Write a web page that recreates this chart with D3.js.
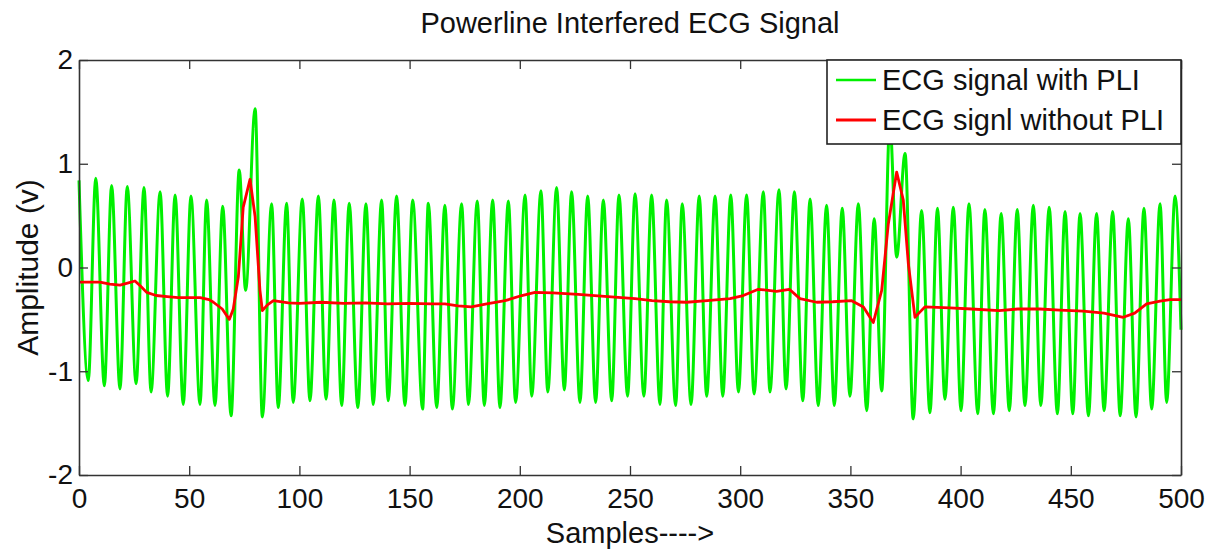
<!DOCTYPE html>
<html>
<head>
<meta charset="utf-8">
<script src="https://cdn.jsdelivr.net/npm/d3@7"></script>
<style>
  body { margin: 0; background: #fff; }
  text { font-family: "Liberation Sans", Arial, sans-serif; fill: #111; }
</style>
</head>
<body>
<div class="chart"></div>
<script>
var svgWidth = 1222;
var svgHeight = 551;

var margin = { top: 60, right: 41, bottom: 76, left: 79 };
var width = svgWidth - margin.left - margin.right;
var height = svgHeight - margin.top - margin.bottom;

// green trace (ECG + powerline): sample position and value at each peak / trough
var greenSamples = [0, 4.2, 7.6, 11.5, 14.8, 18.6, 21.9, 25.9, 29.5, 32.7, 36.8, 40.2, 43.6, 47.3, 50.8, 54.9,
  57.9, 61.7, 65.2, 69, 72.7, 75.6, 79.9, 83.2, 87.4, 90.4, 94.2, 97.2, 101.3, 104.8, 108.6, 112.1, 115.7,
  119.2, 122.6, 126.5, 130.2, 133.5, 137.3, 140.3, 144.1, 147.9, 151.4, 155.9, 158.5, 162.3, 166, 169.4,
  173.6, 176.7, 180.7, 183.9, 187.7, 191, 194.8, 198.1, 202.4, 205.4, 209.6, 212.7, 216.7, 220.2, 223.5,
  227.3, 230.8, 234.4, 237.9, 241.7, 245, 248.9, 252.3, 256.3, 259.8, 263.6, 266.6, 270.7, 273.7, 277.7,
  281.4, 284.8, 288.6, 292.1, 295.7, 299.2, 302.9, 306.3, 310.5, 313.5, 317.6, 320.8, 324.6, 328.4, 331.7,
  335.4, 339.2, 342.7, 346.3, 349.8, 353.6, 357.4, 360.8, 364.2, 367.9, 371, 374.8, 378.5, 382.3, 386.1,
  389.5, 392.9, 396.7, 400.2, 403.8, 407.8, 411, 414.9, 418.4, 422.1, 425.7, 429.2, 433, 436.4, 440.2,
  443.9, 447.4, 450.9, 454.2, 458, 461.7, 465.1, 469, 472.4, 476.1, 479.6, 483.2, 486.7, 490.5, 493.5,
  497.3, 500];
var greenValues = [0.84, -1.09, 0.86, -1.14, 0.79, -1.17, 0.78, -1.12, 0.77, -1.20, 0.73, -1.24, 0.70, -1.32,
  0.69, -1.32, 0.65, -1.33, 0.59, -1.43, 0.94, -0.22, 1.53, -1.44, 0.615, -1.35, 0.62, -1.30, 0.66, -1.285,
  0.69, -1.27, 0.65, -1.33, 0.62, -1.35, 0.615, -1.32, 0.65, -1.285, 0.69, -1.33, 0.65, -1.365, 0.62, -1.35,
  0.60, -1.365, 0.615, -1.32, 0.64, -1.33, 0.65, -1.35, 0.64, -1.30, 0.70, -1.24, 0.74, -1.20, 0.77, -1.18,
  0.73, -1.30, 0.69, -1.30, 0.65, -1.285, 0.70, -1.24, 0.71, -1.24, 0.70, -1.32, 0.65, -1.33, 0.615, -1.32,
  0.69, -1.24, 0.69, -1.24, 0.70, -1.20, 0.70, -1.22, 0.73, -1.20, 0.75, -1.17, 0.73, -1.285, 0.66, -1.33,
  0.60, -1.33, 0.57, -1.24, 0.615, -1.38, 0.47, -1.19, 1.40, 0.10, 1.10, -1.46, 0.55, -1.40, 0.57, -1.27,
  0.58, -1.38, 0.615, -1.41, 0.56, -1.41, 0.52, -1.38, 0.56, -1.33, 0.60, -1.33, 0.58, -1.41, 0.54, -1.41,
  0.52, -1.43, 0.52, -1.38, 0.54, -1.43, 0.47, -1.44, 0.57, -1.365, 0.615, -1.30, 0.69, -0.60];

// red trace (ECG without PLI)
var redSamples = [0, 5, 9.5, 14, 18.6, 22, 25.4, 28, 30.7, 35, 40, 45, 50, 55, 59, 61, 65, 68.2, 70, 72.3,
  74.5, 77.6, 79.9, 82.1, 83.2, 85.5, 88.2, 95, 100, 110, 120, 130, 140, 150, 160, 166, 172, 178, 185,
  193.3, 200.9, 206.9, 215, 226.5, 240, 252.3, 260, 268, 275.7, 285, 295.4, 301.4, 308.2, 316.5, 322.3,
  327.1, 334.7, 342, 350.6, 355.9, 360.4, 364.2, 367.2, 371, 374, 376.3, 379.3, 381.5, 383.8, 395, 405,
  417.4, 426, 436, 445, 455.7, 465, 473.8, 479, 484.4, 490.5, 495, 500];
var redValues = [-0.14, -0.14, -0.14, -0.16, -0.17, -0.15, -0.13, -0.18, -0.24, -0.27, -0.28, -0.29, -0.29,
  -0.29, -0.31, -0.335, -0.40, -0.50, -0.40, -0.09, 0.58, 0.85, 0.49, -0.22, -0.415, -0.36, -0.32, -0.34,
  -0.345, -0.335, -0.345, -0.34, -0.35, -0.345, -0.35, -0.35, -0.37, -0.38, -0.35, -0.32, -0.27, -0.24,
  -0.245, -0.26, -0.28, -0.30, -0.32, -0.33, -0.335, -0.32, -0.30, -0.27, -0.21, -0.23, -0.21, -0.30,
  -0.335, -0.33, -0.32, -0.38, -0.53, -0.22, 0.42, 0.92, 0.65, 0.035, -0.48, -0.43, -0.38, -0.39, -0.40,
  -0.415, -0.40, -0.40, -0.41, -0.42, -0.44, -0.48, -0.44, -0.35, -0.325, -0.31, -0.31];

var xTicks = [0, 50, 100, 150, 200, 250, 300, 350, 400, 450, 500];
var yTicks = [-2, -1, 0, 1, 2];
var seriesNames = ["ECG signal with PLI", "ECG signl without PLI"];
var seriesColors = ["#00f000", "#ff0000"];

var svg = d3.select(".chart")
  .append("svg")
  .attr("width", svgWidth)
  .attr("height", svgHeight);

var chartGroup = svg.append("g")
  .attr("transform", `translate(${margin.left}, ${margin.top})`);

var xScale = d3.scaleLinear().domain([0, 500]).range([0, width]);
var yScale = d3.scaleLinear().domain([-2, 2]).range([height, 0]);

var greenData = greenSamples.map((s, i) => [s, greenValues[i]]);
var redData = redSamples.map((s, i) => [s, redValues[i]]);

var greenLine = d3.line()
  .x(d => xScale(d[0]))
  .y(d => yScale(d[1]))
  .curve(d3.curveMonotoneX);

var redLine = d3.line()
  .x(d => xScale(d[0]))
  .y(d => yScale(d[1]));

chartGroup.append("path")
  .datum(greenData)
  .attr("d", greenLine)
  .attr("fill", "none")
  .attr("stroke", seriesColors[0])
  .attr("stroke-width", 3);

chartGroup.append("path")
  .datum(redData)
  .attr("d", redLine)
  .attr("fill", "none")
  .attr("stroke", seriesColors[1])
  .attr("stroke-width", 2.8)
  .attr("stroke-linejoin", "round");

// axes, MATLAB style: ticks point inward on all four sides
var bottomAxis = d3.axisBottom(xScale).tickValues(xTicks).tickSizeInner(-9).tickSizeOuter(0).tickPadding(13);
var topAxis = d3.axisTop(xScale).tickValues(xTicks).tickSizeInner(-9).tickSizeOuter(0).tickFormat("");
var leftAxis = d3.axisLeft(yScale).tickValues(yTicks).tickSizeInner(-9).tickSizeOuter(0).tickPadding(6)
  .tickFormat(d => String(d));
var rightAxis = d3.axisRight(yScale).tickValues(yTicks).tickSizeInner(-9).tickSizeOuter(0).tickFormat("");

var axes = [
  chartGroup.append("g").attr("transform", `translate(0, ${height})`).call(bottomAxis),
  chartGroup.append("g").call(topAxis),
  chartGroup.append("g").call(leftAxis),
  chartGroup.append("g").attr("transform", `translate(${width}, 0)`).call(rightAxis)
];
axes.forEach(function(a) {
  a.selectAll(".domain").attr("stroke", "#333").attr("stroke-width", 1.6);
  a.selectAll(".tick line").attr("stroke", "#333").attr("stroke-width", 1.3);
  a.selectAll(".tick text").style("font-size", "28px").attr("fill", "#111");
});

// legend box in the upper right corner
var legend = chartGroup.append("g")
  .attr("transform", `translate(${width - 354}, 0)`);

legend.append("rect")
  .attr("width", 354)
  .attr("height", 84)
  .attr("fill", "#fff")
  .attr("stroke", "#222")
  .attr("stroke-width", 1.6);

seriesNames.forEach(function(name, i) {
  var row = legend.append("g").attr("transform", `translate(0, ${20 + i * 40})`);
  row.append("line")
    .attr("x1", 9).attr("x2", 49)
    .attr("stroke", seriesColors[i])
    .attr("stroke-width", i == 0 ? 2.4 : 2.8);
  row.append("text")
    .attr("x", 55)
    .attr("dy", "0.35em")
    .style("font-size", "29px")
    .text(name);
});

// title and axis labels
svg.append("text")
  .attr("x", margin.left + width / 2)
  .attr("y", 33)
  .attr("text-anchor", "middle")
  .style("font-size", "29px")
  .text("Powerline Interfered ECG Signal");

svg.append("text")
  .attr("x", margin.left + width / 2)
  .attr("y", 543)
  .attr("text-anchor", "middle")
  .style("font-size", "29px")
  .text("Samples---->");

svg.append("text")
  .attr("transform", "rotate(-90)")
  .attr("x", -(margin.top + height / 2))
  .attr("y", 38)
  .attr("text-anchor", "middle")
  .style("font-size", "30px")
  .text("Amplitude (v)");
</script>
</body>
</html>
